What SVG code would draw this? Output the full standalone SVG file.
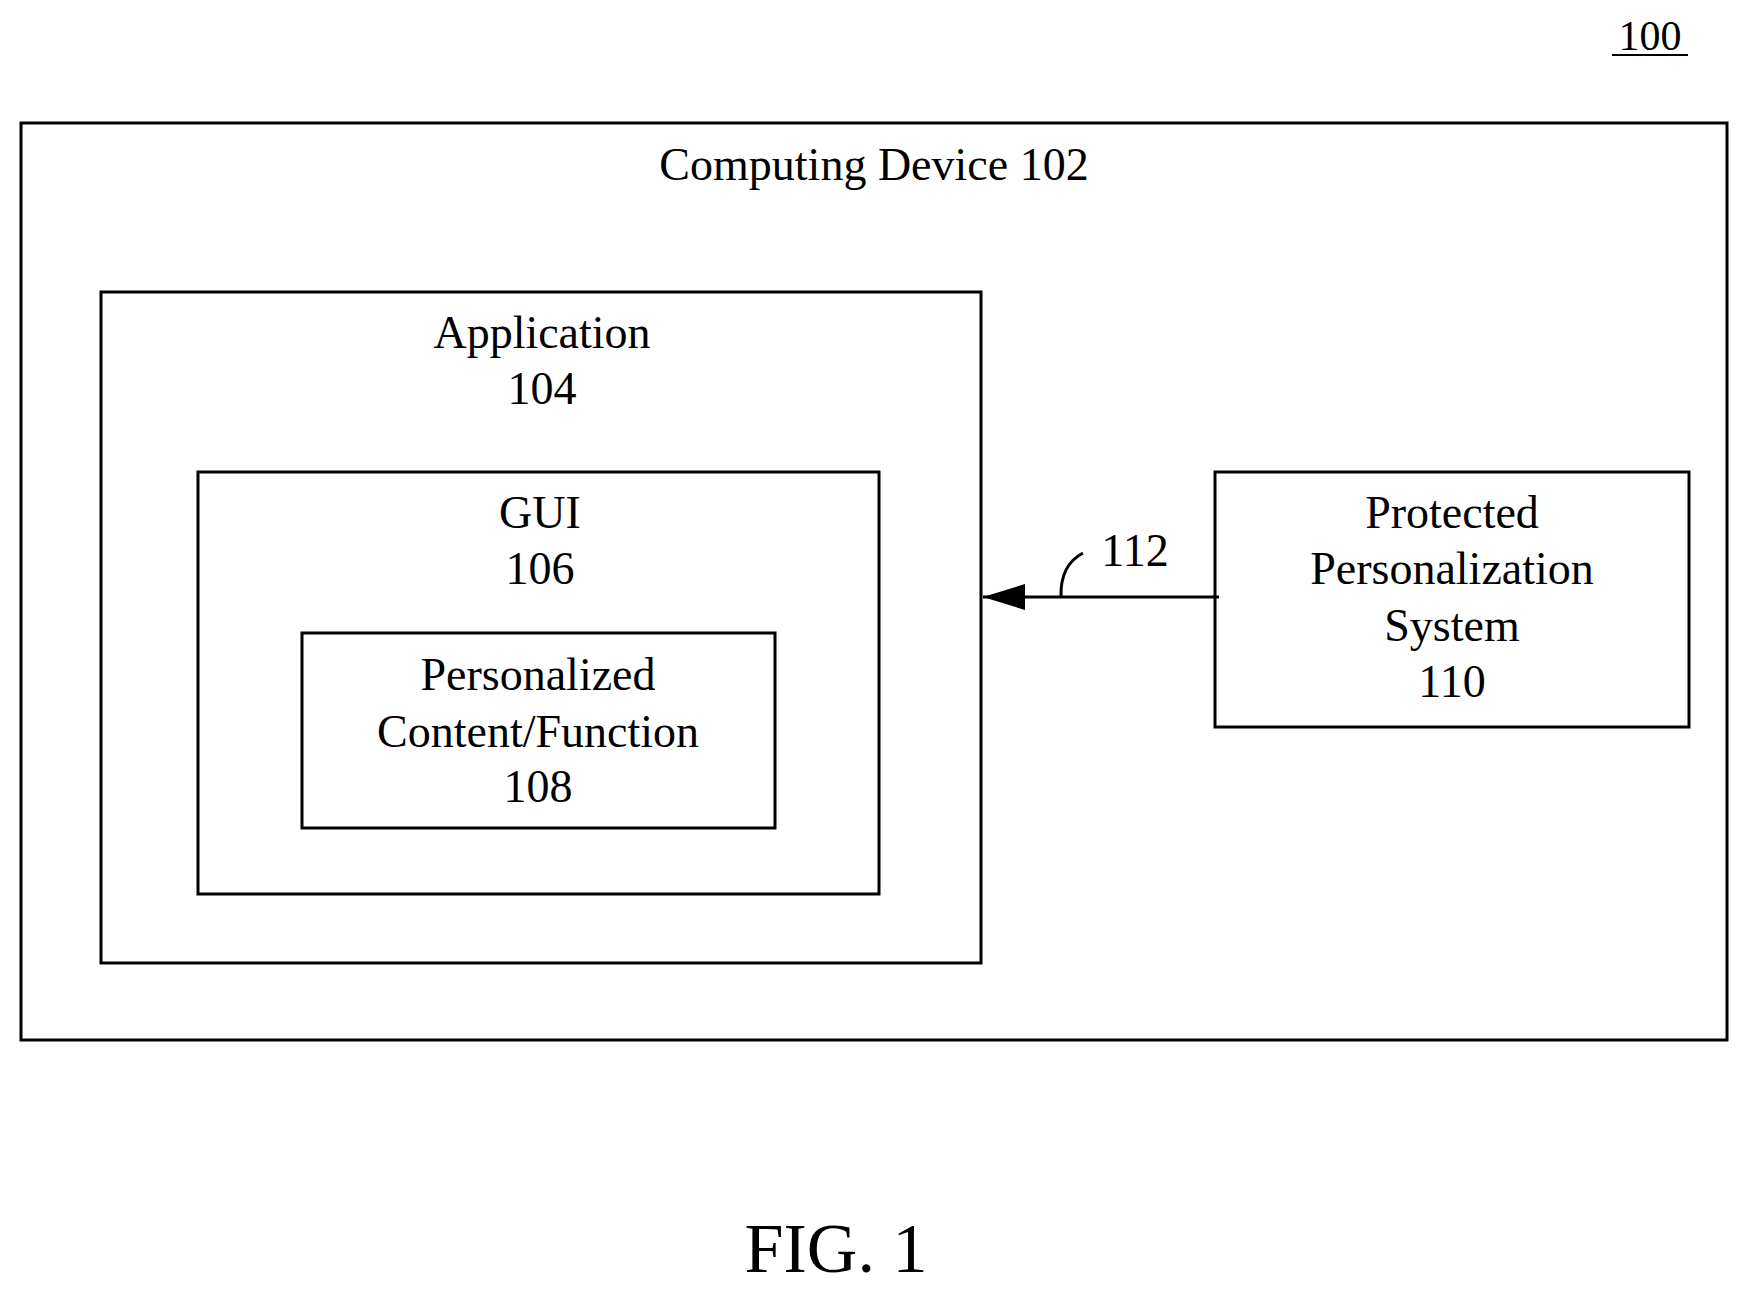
<svg xmlns="http://www.w3.org/2000/svg" width="1748" height="1296" viewBox="0 0 1748 1296">
<style>
rect{fill:none;stroke:#000;stroke-width:3}
text{font-family:"Liberation Serif",serif;font-size:46px;text-anchor:middle;fill:#000}
</style>
<defs><marker id="ah" markerWidth="14" markerHeight="10" refX="14" refY="5" orient="auto" markerUnits="userSpaceOnUse" viewBox="0 0 14 10"><path d="M0,0 L14,5 L0,10 z" fill="#000" transform="scale(1)"/></marker>
<marker id="ah2" markerWidth="42" markerHeight="26" refX="42" refY="13" orient="auto" markerUnits="userSpaceOnUse"><path d="M0,0 L42,13 L0,26 z" fill="#000"/></marker></defs>
<rect width="1748" height="1296" fill="#fff" stroke="none" style="fill:#fff;stroke:none"/>
<text x="1650" y="50" style="font-size:42px">100</text>
<line x1="1612" y1="55" x2="1688" y2="55" stroke="#000" stroke-width="2"/>
<g id="n102"><rect x="21" y="123" width="1706" height="917"/><text x="874" y="180">Computing Device 102</text></g>
<g id="n104"><rect x="101" y="292" width="880" height="671"/><text x="542" y="348">Application</text><text x="542" y="404">104</text></g>
<g id="n106"><rect x="198" y="472" width="681" height="422"/><text x="540" y="528">GUI</text><text x="540" y="584">106</text></g>
<g id="n108"><rect x="302" y="633" width="473" height="195"/><text x="538" y="690">Personalized</text><text x="538" y="747">Content/Function</text><text x="538" y="802">108</text></g>
<g id="n110"><rect x="1215" y="472" width="474" height="255"/><text x="1452" y="528">Protected</text><text x="1452" y="584">Personalization</text><text x="1452" y="641">System</text><text x="1452" y="697">110</text></g>
<g id="connectors">
<line x1="1219" y1="597" x2="983" y2="597" stroke="#000" stroke-width="3" marker-end="url(#ah2)"/>
<path d="M1061,597 Q1060,565 1083,553" fill="none" stroke="#000" stroke-width="3"/>
<text x="1135" y="566">112</text>
</g>
<text x="836" y="1272" style="font-size:70px">FIG. 1</text>
</svg>
